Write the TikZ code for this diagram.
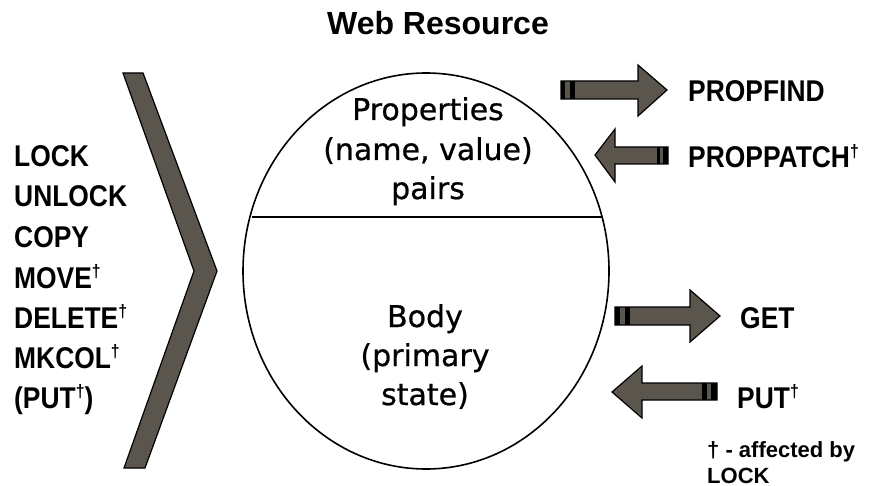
\documentclass[tikz,border=0pt]{standalone}
\usepackage{fontspec}
\usetikzlibrary{shapes.geometric}
\setmainfont{Liberation Sans}
\newfontfamily\narrowfont[FakeStretch=0.88]{Liberation Sans}
\newfontfamily\ellfont[FakeBold=0.7]{DejaVu Sans}
\definecolor{arrowfill}{HTML}{5B564D}
% raised dagger marking the methods affected by LOCK
\newcommand\lockmark{\raisebox{0.36em}{\fontsize{18}{18}\selectfont\bfseries †}}

\begin{document}
\begin{tikzpicture}[x=1pt,y=-1pt,
  method/.style={font=\narrowfont\bfseries\fontsize{30}{36}\selectfont, inner sep=0pt, anchor=base west},
  inner/.style={font=\ellfont\fontsize{30}{36}\selectfont, inner sep=0pt, anchor=base},
  footnote/.style={font=\bfseries\fontsize{22}{26}\selectfont, inner sep=0pt, anchor=base west},
  blockarrow/.style={fill=arrowfill, draw=black, line width=1.2pt, line join=miter},
  tailbar/.style={fill=black, draw=none}]
\useasboundingbox (0,0) rectangle (874,486);

% title
\node[font=\bfseries\fontsize{32}{36}\selectfont, inner sep=0pt, anchor=base] (title) at (438,35) {Web Resource};

% the resource: an ellipse split into properties and body
\node[draw, line width=1.6pt, ellipse, minimum width=366pt, minimum height=396pt, inner sep=0pt] (res) at (426,271) {};
\coordinate (divL) at (252,217);
\coordinate (divR) at (602,217);
\draw[line width=1.6pt] (divL) -- (divR);

\node[inner] (p1) at (428,120) {Properties};
\node[inner] (p2) at (428,160) {(name, value)};
\node[inner] (p3) at (428,199) {pairs};
\node[inner] (b1) at (425,327) {Body};
\node[inner] (b2) at (425,366) {(primary};
\node[inner] (b3) at (425,405) {state)};

% chevron bracket on the left
\draw[blockarrow] (123,73) -- (143,73) -- (217,271) -- (145,468) -- (124,468) -- (194,271) -- cycle;

% methods acting on the whole resource
\node[method] (m1) at (14,167) {LOCK};
\node[method] (m2) at (14,207) {UNLOCK};
\node[method] (m3) at (14,247) {COPY};
\node[method] (m4) at (14,288) {MOVE\lockmark};
\node[method] (m5) at (14,328) {DELETE\lockmark};
\node[method] (m6) at (14,368) {MKCOL\lockmark};
\node[method] (m7) at (14,408) {(PUT\lockmark)};

% PROPFIND: outgoing arrow
\draw[blockarrow] (561,81) -- (638,81) -- (638,65) -- (667,90) -- (638,116) -- (638,99) -- (561,99) -- cycle;
\fill[tailbar] (561,81) rectangle (565,99);
\fill[tailbar] (570,81) rectangle (575,99);
\node[method] (propfind) at (688,102) {PROPFIND};

% PROPPATCH: incoming arrow
\draw[blockarrow] (668,147) -- (615,147) -- (615,129) -- (595,155) -- (615,182) -- (615,164) -- (668,164) -- cycle;
\fill[tailbar] (657,147) rectangle (660,164);
\fill[tailbar] (663,147) rectangle (668,164);
\node[method] (proppatch) at (688,168) {PROPPATCH\lockmark};

% GET: outgoing arrow
\draw[blockarrow] (615,307) -- (690,307) -- (690,290) -- (720,316) -- (690,342) -- (690,325) -- (615,325) -- cycle;
\fill[tailbar] (615,307) rectangle (620,325);
\fill[tailbar] (625,307) rectangle (630,325);
\node[method] (get) at (740,328) {GET};

% PUT: incoming arrow
\draw[blockarrow] (717,383) -- (642,383) -- (642,366) -- (612,392) -- (642,418) -- (642,400) -- (717,400) -- cycle;
\fill[tailbar] (702,383) rectangle (707,400);
\fill[tailbar] (711,383) rectangle (717,400);
\node[method] (put) at (737,408) {PUT\lockmark};

% footnote
\node[footnote] (note1) at (707,457) {† - affected by};
\node[footnote] (note2) at (707,483) {LOCK};
\end{tikzpicture}
\end{document}
